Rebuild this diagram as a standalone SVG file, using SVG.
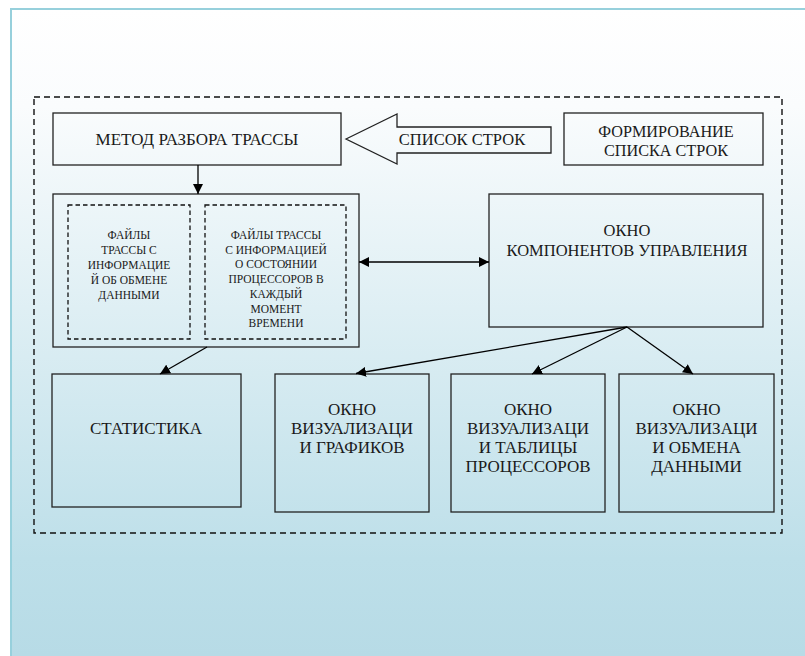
<svg xmlns="http://www.w3.org/2000/svg" width="805" height="656" viewBox="0 0 805 656">
<defs>
<linearGradient id="bg" x1="0" y1="9" x2="0" y2="656" gradientUnits="userSpaceOnUse">
<stop offset="0" stop-color="#ffffff"/>
<stop offset="0.15" stop-color="#fafcfd"/>
<stop offset="0.85" stop-color="#bddfe9"/>
<stop offset="1" stop-color="#b7dbe6"/>
</linearGradient>
<marker id="ah" viewBox="0 0 10 10" refX="10" refY="5" markerWidth="10" markerHeight="10" markerUnits="userSpaceOnUse" orient="auto-start-reverse">
<path d="M0,0 L10,5 L0,10 Z" fill="#000"/>
</marker>
<style>
.box{fill:none;stroke:#222;stroke-width:1.3}
.dash{fill:none;stroke:#111;stroke-width:1.4;stroke-dasharray:6 4}
.idash{fill:none;stroke:#111;stroke-width:1.3;stroke-dasharray:4.5 3}
.l{font-size:17px}
.m{font-size:16.5px}
.f{font-size:16.2px}
.s{font-size:11.5px}
.c{fill:none;stroke:#000;stroke-width:1.3}
</style>
</defs>
<rect x="0" y="0" width="805" height="656" fill="#ffffff"/>
<rect x="11" y="9" width="820" height="670" fill="url(#bg)" stroke="#97d0dc" stroke-width="2"/>
<rect class="dash" x="34" y="97" width="748" height="436"/>

<g font-family="Liberation Serif, Times New Roman, Tinos, Noto Serif, DejaVu Serif, serif" fill="#1a1a1a" text-anchor="middle">
<g id="metod">
<rect class="box" x="53" y="113" width="288" height="52"/>
<text class="l" x="197" y="145">МЕТОД РАЗБОРА ТРАССЫ</text>
</g>
<g id="spisok">
<polygon points="346,139 397,114 397,127 551,127 551,153 397,153 397,164" fill="none" stroke="#222" stroke-width="1.3"/>
<text class="m" x="462" y="145">СПИСОК СТРОК</text>
</g>
<g id="formirovanie">
<rect class="box" x="564" y="113" width="199" height="52"/>
<text class="f" x="666" y="137">ФОРМИРОВАНИЕ</text>
<text class="f" x="666" y="155.5">СПИСКА СТРОК</text>
</g>
<g id="fajly">
<rect class="box" x="53" y="194" width="306" height="153"/>
<rect class="idash" x="68" y="205" width="122" height="134"/>
<rect class="idash" x="205" y="205" width="141" height="134"/>
<text class="s" x="129" y="239">ФАЙЛЫ</text>
<text class="s" x="129" y="254">ТРАССЫ С</text>
<text class="s" x="129" y="269">ИНФОРМАЦИЕ</text>
<text class="s" x="129" y="284">Й ОБ ОБМЕНЕ</text>
<text class="s" x="129" y="299">ДАННЫМИ</text>
<text class="s" x="276" y="239">ФАЙЛЫ ТРАССЫ</text>
<text class="s" x="276" y="253.7">С ИНФОРМАЦИЕЙ</text>
<text class="s" x="276" y="268.4">О СОСТОЯНИИ</text>
<text class="s" x="276" y="283.1">ПРОЦЕССОРОВ В</text>
<text class="s" x="276" y="297.8">КАЖДЫЙ</text>
<text class="s" x="276" y="312.5">МОМЕНТ</text>
<text class="s" x="276" y="327.2">ВРЕМЕНИ</text>
</g>
<g id="okno_upr">
<rect class="box" x="489" y="194" width="274" height="133"/>
<text class="m" x="627" y="236">ОКНО</text>
<text class="m" x="627" y="256">КОМПОНЕНТОВ УПРАВЛЕНИЯ</text>
</g>
<g id="statistika">
<rect class="box" x="52" y="374" width="189" height="133"/>
<text class="l" x="146" y="434">СТАТИСТИКА</text>
</g>
<g id="okno_graf">
<rect class="box" x="275" y="374" width="154" height="138"/>
<text class="l" x="352" y="415">ОКНО</text>
<text class="l" x="352" y="434">ВИЗУАЛИЗАЦИ</text>
<text class="l" x="352" y="453">И ГРАФИКОВ</text>
</g>
<g id="okno_tabl">
<rect class="box" x="451" y="374" width="154" height="138"/>
<text class="l" x="528" y="415">ОКНО</text>
<text class="l" x="528" y="434">ВИЗУАЛИЗАЦИ</text>
<text class="l" x="528" y="453">И ТАБЛИЦЫ</text>
<text class="l" x="528" y="471.5">ПРОЦЕССОРОВ</text>
</g>
<g id="okno_obmen">
<rect class="box" x="619" y="374" width="155" height="138"/>
<text class="l" x="696.5" y="415">ОКНО</text>
<text class="l" x="696.5" y="434">ВИЗУАЛИЗАЦИ</text>
<text class="l" x="696.5" y="453">И ОБМЕНА</text>
<text class="l" x="696.5" y="471.5">ДАННЫМИ</text>
</g>
</g>

<g id="connectors">
<line class="c" x1="198" y1="165" x2="198" y2="194" marker-end="url(#ah)"/>
<line class="c" x1="359" y1="262" x2="489" y2="262" marker-start="url(#ah)" marker-end="url(#ah)"/>
<line class="c" x1="207" y1="347" x2="160" y2="374" marker-end="url(#ah)"/>
<line class="c" x1="627" y1="327" x2="356" y2="373.5" marker-end="url(#ah)"/>
<line class="c" x1="627" y1="327" x2="532" y2="374" marker-end="url(#ah)"/>
<line class="c" x1="627" y1="327" x2="693" y2="374" marker-end="url(#ah)"/>
</g>
</svg>
